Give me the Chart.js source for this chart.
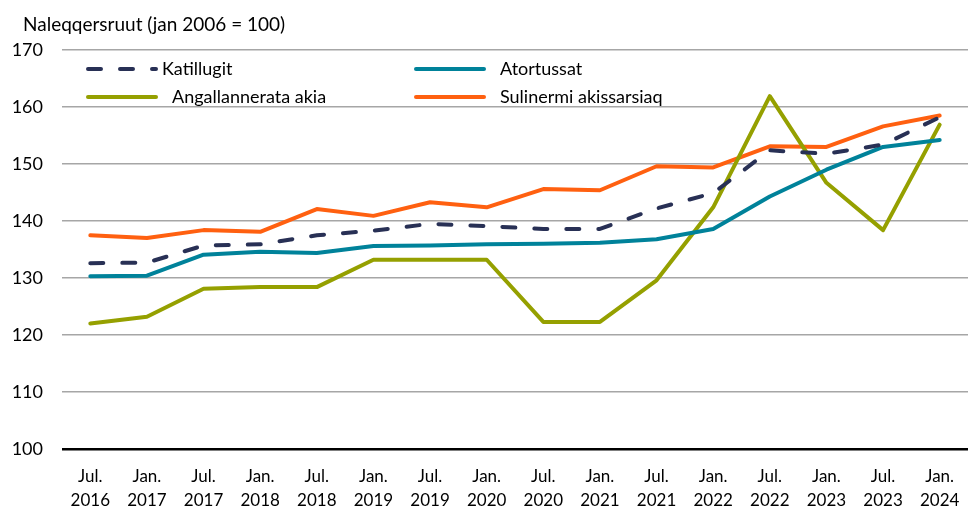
<!DOCTYPE html>
<html>
<head>
<meta charset="utf-8">
<script src="https://cdn.jsdelivr.net/npm/chart.js@4/dist/chart.umd.min.js"></script>
<style>
    html, body { margin: 0; padding: 0; background: #fff; }
    #ramka { width: 968px; height: 512px; position: relative; }
</style>
</head>
<body>
<div id="ramka"><canvas id="wykres"></canvas></div>
<script>
const etykiety = [
    ['Jul.', '2016'], ['Jan.', '2017'], ['Jul.', '2017'], ['Jan.', '2018'],
    ['Jul.', '2018'], ['Jan.', '2019'], ['Jul.', '2019'], ['Jan.', '2020'],
    ['Jul.', '2020'], ['Jan.', '2021'], ['Jul.', '2021'], ['Jan.', '2022'],
    ['Jul.', '2022'], ['Jan.', '2023'], ['Jul.', '2023'], ['Jan.', '2024']
];
const katillugit = [132.6, 132.7, 135.7, 135.9, 137.5, 138.3, 139.5, 139.1, 138.6, 138.6, 142.2, 144.9, 152.4, 151.8, 153.4, 158.2];
const atortussat = [130.3, 130.4, 134.1, 134.6, 134.4, 135.6, 135.7, 135.9, 136.0, 136.2, 136.8, 138.6, 144.3, 149.0, 153.0, 154.2];
const angallannerata = [122.0, 123.2, 128.1, 128.4, 128.4, 133.2, 133.2, 133.2, 122.3, 122.3, 129.6, 142.4, 161.9, 146.7, 138.4, 156.9];
const sulinermi = [137.5, 137.0, 138.4, 138.1, 142.1, 140.9, 143.3, 142.4, 145.6, 145.4, 149.6, 149.4, 153.1, 153.0, 156.6, 158.5];

const tytul = 'Naleqqersruut (jan 2006 = 100)';
const FONT = 'Lato, "Open Sans", sans-serif';

const serie = [
    { nazwa: 'Katillugit', dane: katillugit, kolor: '#283055', kreska: [13, 19] },
    { nazwa: 'Atortussat', dane: atortussat, kolor: '#00829a', kreska: [] },
    { nazwa: 'Angallannerata akia', dane: angallannerata, kolor: '#95a000', kreska: [] },
    { nazwa: 'Sulinermi akissarsiaq', dane: sulinermi, kolor: '#ff6010', kreska: [] }
];

// legenda i tytul rysowane recznie, zeby trafic w uklad oryginalu
const legendaWlasna = {
    id: 'legendaWlasna',
    afterDraw(chart) {
        const ctx = chart.ctx;
        ctx.save();
        ctx.fillStyle = '#000';
        ctx.textBaseline = 'middle';
        ctx.textAlign = 'left';
        ctx.font = '19px ' + FONT;
        ctx.fillText(tytul, 23, 25);

        ctx.font = '18px ' + FONT;
        const pozycje = [
            { x: 88, y: 69, tx: 162 },
            { x: 416, y: 69, tx: 500 },
            { x: 88, y: 97, tx: 172 },
            { x: 416, y: 97, tx: 500 }
        ];
        serie.forEach((s, i) => {
            const p = pozycje[i];
            ctx.beginPath();
            ctx.strokeStyle = s.kolor;
            ctx.lineWidth = 4;
            ctx.lineCap = 'round';
            ctx.setLineDash(s.kreska);
            ctx.moveTo(p.x, p.y);
            ctx.lineTo(p.x + 68, p.y);
            ctx.stroke();
            ctx.setLineDash([]);
            ctx.fillText(s.nazwa, p.tx, p.y);
        });
        ctx.restore();
    }
};

new Chart(document.getElementById('wykres'), {
    type: 'line',
    data: {
        labels: etykiety,
        datasets: serie.map(s => ({
            label: s.nazwa,
            data: s.dane,
            borderColor: s.kolor,
            backgroundColor: s.kolor,
            borderWidth: 4,
            borderDash: s.kreska,
            borderCapStyle: 'round',
            borderJoinStyle: 'round',
            pointRadius: 0,
            tension: 0,
            fill: false
        }))
    },
    options: {
        responsive: true,
        maintainAspectRatio: false,
        animation: false,
        layout: { padding: { top: 50, right: 0, bottom: 0, left: 0 } },
        plugins: {
            legend: { display: false },
            tooltip: { enabled: false },
            title: { display: false }
        },
        scales: {
            x: {
                offset: true,
                afterFit: s => { s.height = 63; s.paddingLeft = 0; s.paddingRight = 0; },
                grid: { display: false, drawTicks: false },
                border: { display: false },
                ticks: {
                    color: '#000',
                    font: { family: FONT, size: 17, lineHeight: 1.4 },
                    padding: 16,
                    maxRotation: 0,
                    autoSkip: false
                }
            },
            y: {
                min: 100,
                max: 170,
                afterFit: s => { s.width = 62; },
                grid: {
                    drawTicks: false,
                    color: c => c.tick && c.tick.value === 100 ? '#000' : '#a6a6a6',
                    lineWidth: c => c.tick && c.tick.value === 100 ? 2.5 : 1.5
                },
                border: { display: false },
                ticks: {
                    stepSize: 10,
                    color: '#000',
                    font: { family: FONT, size: 18 },
                    padding: 19
                }
            }
        }
    },
    plugins: [legendaWlasna]
});
</script>
</body>
</html>
